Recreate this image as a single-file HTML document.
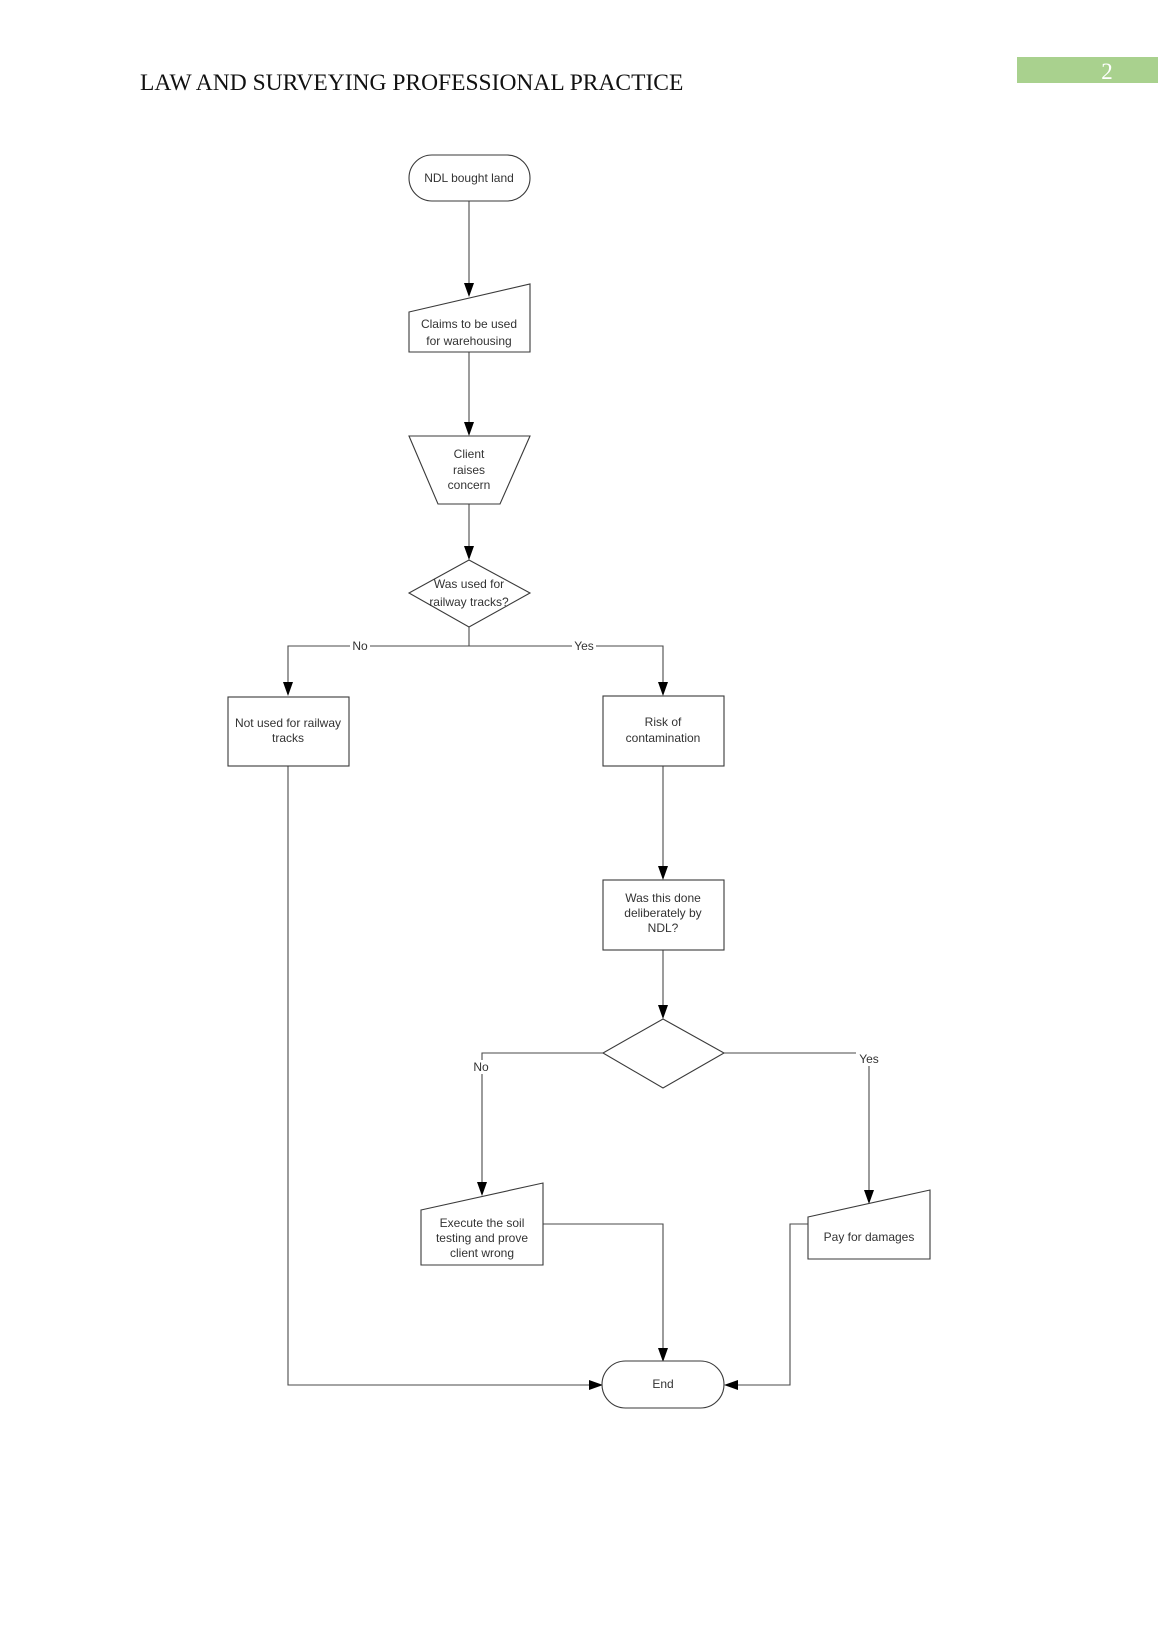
<!DOCTYPE html>
<html>
<head>
<meta charset="utf-8">
<style>
  html, body { margin:0; padding:0; background:#fff; }
  body { width:1158px; height:1638px; position:relative; overflow:hidden; }
  svg { position:absolute; left:0; top:0; }
  .hdr { font-family:"Liberation Serif", serif; font-size:23.5px; fill:#111; }
  .pg { font-family:"Liberation Serif", serif; font-size:23px; fill:#fff; }
  .t { font-family:"Liberation Sans", sans-serif; font-size:12px; fill:#333; letter-spacing:0px; text-anchor:middle; }
  .shape { fill:#fff; stroke:#3a3a3a; stroke-width:1.1; }
  .ln { fill:none; stroke:#4a4a4a; stroke-width:1.1; }
  .ah { fill:#000; }
</style>
</head>
<body>
<svg width="1158" height="1638" viewBox="0 0 1158 1638" xmlns="http://www.w3.org/2000/svg">
  <!-- Header -->
  <text class="hdr" x="140" y="90">LAW AND SURVEYING PROFESSIONAL PRACTICE</text>
  <rect x="1017" y="57" width="141" height="26" fill="#a9d18e"/>
  <text class="pg" x="1107" y="79" text-anchor="middle">2</text>

  <!-- Connectors -->
  <line class="ln" x1="469" y1="201" x2="469" y2="284"/>
  <polygon class="ah" points="464,283 474,283 469,297"/>

  <line class="ln" x1="469" y1="352" x2="469" y2="424"/>
  <polygon class="ah" points="464,422 474,422 469,436"/>

  <line class="ln" x1="469" y1="504" x2="469" y2="548"/>
  <polygon class="ah" points="464,546 474,546 469,560"/>

  <line class="ln" x1="469" y1="627" x2="469" y2="646"/>
  <polyline class="ln" points="288,684 288,646 663,646 663,684"/>
  <polygon class="ah" points="283,682 293,682 288,696"/>
  <polygon class="ah" points="658,682 668,682 663,696"/>
  <rect x="350" y="639" width="20" height="14" fill="#fff"/>
  <text class="t" x="360" y="650">No</text>
  <rect x="572" y="639" width="24" height="14" fill="#fff"/>
  <text class="t" x="584" y="650">Yes</text>

  <line class="ln" x1="663" y1="766" x2="663" y2="868"/>
  <polygon class="ah" points="658,866 668,866 663,880"/>

  <line class="ln" x1="663" y1="950" x2="663" y2="1007"/>
  <polygon class="ah" points="658,1005 668,1005 663,1019"/>

  <!-- lower decision branches -->
  <polyline class="ln" points="603,1053 482,1053 482,1183"/>
  <polygon class="ah" points="477,1182 487,1182 482,1196"/>
  <rect x="470" y="1060" width="24" height="14" fill="#fff"/>
  <text class="t" x="481" y="1071">No</text>

  <polyline class="ln" points="724,1053 869,1053 869,1191"/>
  <polygon class="ah" points="864,1190 874,1190 869,1204"/>
  <rect x="856" y="1052" width="26" height="14" fill="#fff"/>
  <text class="t" x="869" y="1063">Yes</text>

  <polyline class="ln" points="543,1224 663,1224 663,1350"/>
  <polygon class="ah" points="658,1348 668,1348 663,1362"/>

  <polyline class="ln" points="288,766 288,1385 591,1385"/>
  <polygon class="ah" points="589,1380 589,1390 603,1385"/>

  <polyline class="ln" points="808,1224 790,1224 790,1385 736,1385"/>
  <polygon class="ah" points="738,1380 738,1390 724,1385"/>

  <!-- Nodes -->
  <rect class="shape" x="409" y="155" width="121" height="46" rx="23" ry="23"/>
  <text class="t" x="469" y="182">NDL bought land</text>

  <polygon class="shape" points="409,312 530,284 530,352 409,352"/>
  <text class="t" x="469" y="328">Claims to be used</text>
  <text class="t" x="469" y="345">for warehousing</text>

  <polygon class="shape" points="409,436 530,436 500,504 438,504"/>
  <text class="t" x="469" y="458">Client</text>
  <text class="t" x="469" y="474">raises</text>
  <text class="t" x="469" y="489">concern</text>

  <polygon class="shape" points="469,560 530,593 469,627 409,593"/>
  <text class="t" x="469" y="588">Was used for</text>
  <text class="t" x="469" y="606">railway tracks?</text>

  <rect class="shape" x="228" y="697" width="121" height="69"/>
  <text class="t" x="288" y="727">Not used for railway</text>
  <text class="t" x="288" y="742">tracks</text>

  <rect class="shape" x="603" y="696" width="121" height="70"/>
  <text class="t" x="663" y="726">Risk of</text>
  <text class="t" x="663" y="742">contamination</text>

  <rect class="shape" x="603" y="880" width="121" height="70"/>
  <text class="t" x="663" y="902">Was this done</text>
  <text class="t" x="663" y="917">deliberately by</text>
  <text class="t" x="663" y="932">NDL?</text>

  <polygon class="shape" points="663,1019 724,1053 663,1088 603,1053"/>

  <polygon class="shape" points="421,1210 543,1183 543,1265 421,1265"/>
  <text class="t" x="482" y="1227">Execute the soil</text>
  <text class="t" x="482" y="1242">testing and prove</text>
  <text class="t" x="482" y="1257">client wrong</text>

  <polygon class="shape" points="808,1217 930,1190 930,1259 808,1259"/>
  <text class="t" x="869" y="1241">Pay for damages</text>

  <rect class="shape" x="602" y="1361" width="122" height="47" rx="23.5" ry="23.5"/>
  <text class="t" x="663" y="1388">End</text>
</svg>
</body>
</html>
